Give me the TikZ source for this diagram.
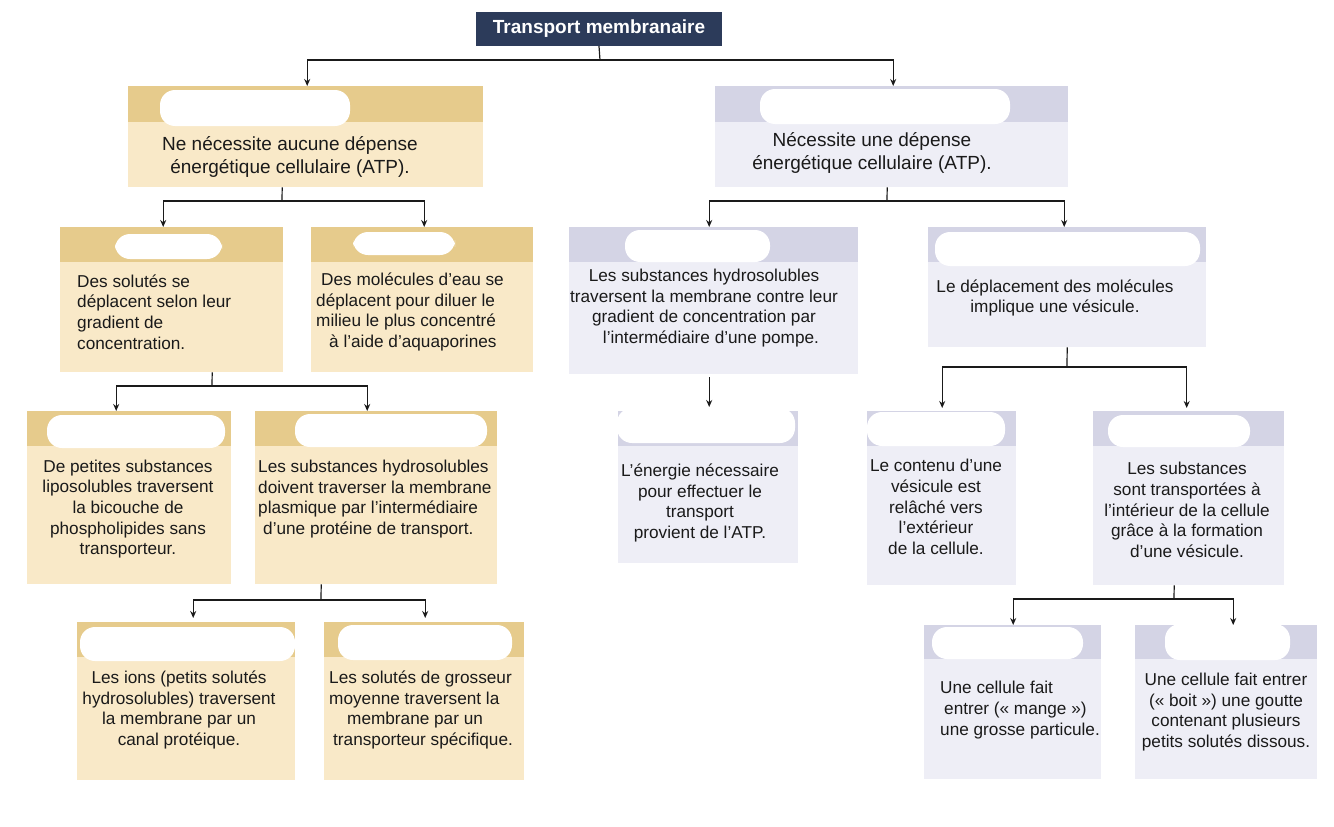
\documentclass[tikz,border=0pt]{standalone}
\usepackage{fontspec}
\setmainfont{Liberation Sans}
\usetikzlibrary{arrows.meta}
\definecolor{navy}{HTML}{2C3B5A}
\definecolor{tanH}{HTML}{E6CB8C}
\definecolor{tanB}{HTML}{F9E9C8}
\definecolor{lavH}{HTML}{D4D4E5}
\definecolor{lavB}{HTML}{EEEEF6}
\definecolor{ink}{HTML}{1A1A1A}
\newcommand{\boxhead}[3]{\fill[#2] (#1.north west) rectangle ([yshift=-#3pt]#1.north east);}
\begin{document}
\begin{tikzpicture}[x=1pt,y=-1pt,
 box/.style={draw=none, inner sep=0pt, anchor=north west},
 tanbox/.style={box, fill=tanB},
 lavbox/.style={box, fill=lavB},
 txt/.style={font=\fontsize{17.2}{20.7}\selectfont, text=ink, inner sep=0pt},
 big/.style={font=\fontsize{19}{22.5}\selectfont, text=ink, inner sep=0pt},
 blob/.style={fill=white, rounded corners=15pt},
 arr/.style={draw=ink, line width=1.2pt, -{Stealth[length=7pt,width=6pt]}},
 ln/.style={draw=ink, line width=1.2pt}]
\useasboundingbox (0,0) rectangle (1334,827);
\fill[white] (0,0) rectangle (1334,827);

% title
\node[fill=navy, text=white, font=\bfseries\fontsize{19}{22}\selectfont, minimum width=246pt, minimum height=34pt, inner sep=0pt] (T) at (599,29) {Transport membranaire};

% boxes
\node[tanbox, minimum width=355pt, minimum height=101pt] (A) at (128,86) {};
\node[lavbox, minimum width=353pt, minimum height=101pt] (B) at (715,86) {};
\node[tanbox, minimum width=223pt, minimum height=145pt] (A1) at (60,227) {};
\node[tanbox, minimum width=222pt, minimum height=145pt] (A2) at (311,227) {};
\node[tanbox, minimum width=204pt, minimum height=173pt] (A1a) at (27,411) {};
\node[tanbox, minimum width=242pt, minimum height=173pt] (A1b) at (255,411) {};
\node[tanbox, minimum width=218pt, minimum height=158pt] (A1b1) at (77,622) {};
\node[tanbox, minimum width=200pt, minimum height=158pt] (A1b2) at (324,622) {};
\node[lavbox, minimum width=289pt, minimum height=147pt] (B1) at (569,227) {};
\node[lavbox, minimum width=278pt, minimum height=120pt] (B2) at (928,227) {};
\node[lavbox, minimum width=180pt, minimum height=152pt] (B1a) at (618,411) {};
\node[lavbox, minimum width=149pt, minimum height=174pt] (B2a) at (867,411) {};
\node[lavbox, minimum width=191pt, minimum height=174pt] (B2b) at (1093,411) {};
\node[lavbox, minimum width=177pt, minimum height=154pt] (B2b1) at (924,625) {};
\node[lavbox, minimum width=182pt, minimum height=154pt] (B2b2) at (1135,625) {};

% header strips
\boxhead{A}{tanH}{36}
\boxhead{B}{lavH}{36}
\boxhead{A1}{tanH}{35}
\boxhead{A2}{tanH}{35}
\boxhead{A1a}{tanH}{35}
\boxhead{A1b}{tanH}{35}
\boxhead{A1b1}{tanH}{35}
\boxhead{A1b2}{tanH}{35}
\boxhead{B1}{lavH}{35}
\boxhead{B2}{lavH}{35}
\boxhead{B1a}{lavH}{35}
\boxhead{B2a}{lavH}{35}
\boxhead{B2b}{lavH}{35}
\boxhead{B2b1}{lavH}{34}
\boxhead{B2b2}{lavH}{34}

% masked header labels (white blobs)
\fill[blob] (160,90) rectangle (350,126);
\fill[blob] (760,89) rectangle (1010,124);
\fill[blob] (115,234) rectangle (222,259);
\fill[blob] (353,232) rectangle (455,255);
\fill[blob] (47,415) rectangle (225,448);
\fill[blob] (295,414) rectangle (487,447);
\fill[blob] (80,627) rectangle (295,661);
\fill[blob] (338,625) rectangle (512,660);
\fill[blob] (625,230) rectangle (770,262);
\fill[blob] (617,408) rectangle (795,443);
\fill[blob] (935,232) rectangle (1200,266);
\fill[blob] (867,412) rectangle (1005,446);
\fill[blob] (1108,415) rectangle (1250,447);
\fill[blob] (932,627) rectangle (1083,659);
\fill[blob] (1165,624) rectangle (1290,660);

% texts
\node[big, align=center] (At) at (290,157) {Ne nécessite aucune dépense\\ énergétique cellulaire (ATP).};
\node[big, align=center] (Bt) at (872,153) {Nécessite une dépense\\énergétique cellulaire (ATP).};
\node[txt, align=left, anchor=west] (A1t) at (77,312) {Des solutés se\\déplacent selon leur\\gradient de\\concentration.};
\node[txt, align=left, anchor=west] (A2t) at (316,312) {\hspace{5pt}Des molécules d’eau se\\déplacent pour diluer le\\milieu le plus concentré\\\hspace{13pt}à l’aide d’aquaporines};
\node[txt, align=center] (A1at) at (128,509) {De petites substances\\liposolubles traversent\\la bicouche de\\phospholipides sans\\transporteur.};
\node[txt, align=left, anchor=west] (A1bt) at (258,499) {Les substances hydrosolubles\\doivent traverser la membrane\\plasmique par l’intermédiaire\\\hspace{5pt}d’une protéine de transport.};
\node[txt, align=center] (A1b1t) at (179,710) {Les ions (petits solutés\\hydrosolubles) traversent\\la membrane par un\\canal protéique.};
\node[txt, align=left, anchor=west] (A1b2t) at (329,710) {Les solutés de grosseur\\moyenne traversent la\\\hspace{18pt}membrane par un\\\hspace{4pt}transporteur spécifique.};
\node[txt, align=center] (B1t) at (704,308) {Les substances hydrosolubles\\traversent la membrane contre leur\\gradient de concentration par\\\hspace{14pt}l’intermédiaire d’une pompe.};
\node[txt, align=center] (B2t) at (1055,298) {Le déplacement des molécules\\implique une vésicule.};
\node[txt, align=center] (B1at) at (700,503) {L’énergie nécessaire\\pour effectuer le\\transport\\provient de l’ATP.};
\node[txt, align=center] (B2at) at (936,507) {Le contenu d’une\\vésicule est\\relâché vers\\l’extérieur\\de la cellule.};
\node[txt, align=center] (B2bt) at (1187,510) {Les substances\\sont transportées à\\l’intérieur de la cellule\\grâce à la formation\\d’une vésicule.};
\node[txt, align=left, anchor=west] (B2b1t) at (940,710) {Une cellule fait\\\hspace{4pt}entrer («~mange~»)\\une grosse particule.};
\node[txt, align=center] (B2b2t) at (1226,712) {Une cellule fait entrer\\(«~boit~») une goutte\\contenant plusieurs\\petits solutés dissous.};

% connectors
\coordinate (j0) at (600,60);
\draw[ln] (T.south) -- (j0);
\draw[arr] (j0) -| ([xshift=1.5pt]A.north);
\draw[arr] (j0) -| ([xshift=1.5pt]B.north);

\coordinate (jA) at (282,201);
\draw[ln] ([xshift=-23.5pt]A.south) -- (jA);
\draw[arr] (jA) -| ([xshift=-8.5pt]A1.north);
\draw[arr] (jA) -| ([xshift=2pt]A2.north);

\coordinate (jA1) at (212,386);
\draw[ln] ([xshift=40.5pt]A1.south) -- (jA1);
\draw[arr] (jA1) -| ([xshift=-13pt]A1a.north);
\draw[arr] (jA1) -| ([xshift=-9pt]A1b.north);

\coordinate (jA1b) at (321,600);
\draw[ln] ([xshift=-55pt]A1b.south) -- (jA1b);
\draw[arr, shorten >=4pt] (jA1b) -| ([xshift=7pt]A1b1.north);
\draw[arr, shorten >=4pt] (jA1b) -| ([xshift=1pt]A1b2.north);

\coordinate (jB) at (887,201);
\draw[ln] ([xshift=-4.5pt]B.south) -- (jB);
\draw[arr] (jB) -| ([xshift=-4.5pt]B1.north);
\draw[arr] (jB) -| ([xshift=-3pt]B2.north);

\draw[arr, shorten <=3pt, shorten >=4pt] ([xshift=-4.5pt]B1.south) -- ([xshift=1pt]B1a.north);

\coordinate (jB2) at (1067,367);
\draw[ln] (B2.south) -- (jB2);
\draw[arr, shorten >=3pt] (jB2) -| ([xshift=0.5pt]B2a.north);
\draw[arr, shorten >=3pt] (jB2) -| ([xshift=-2pt]B2b.north);

\coordinate (jB2b) at (1174,599);
\draw[ln] ([xshift=-14.5pt]B2b.south) -- (jB2b);
\draw[arr] (jB2b) -| ([xshift=0.5pt]B2b1.north);
\draw[arr] (jB2b) -| ([xshift=7pt]B2b2.north);
\end{tikzpicture}
\end{document}
